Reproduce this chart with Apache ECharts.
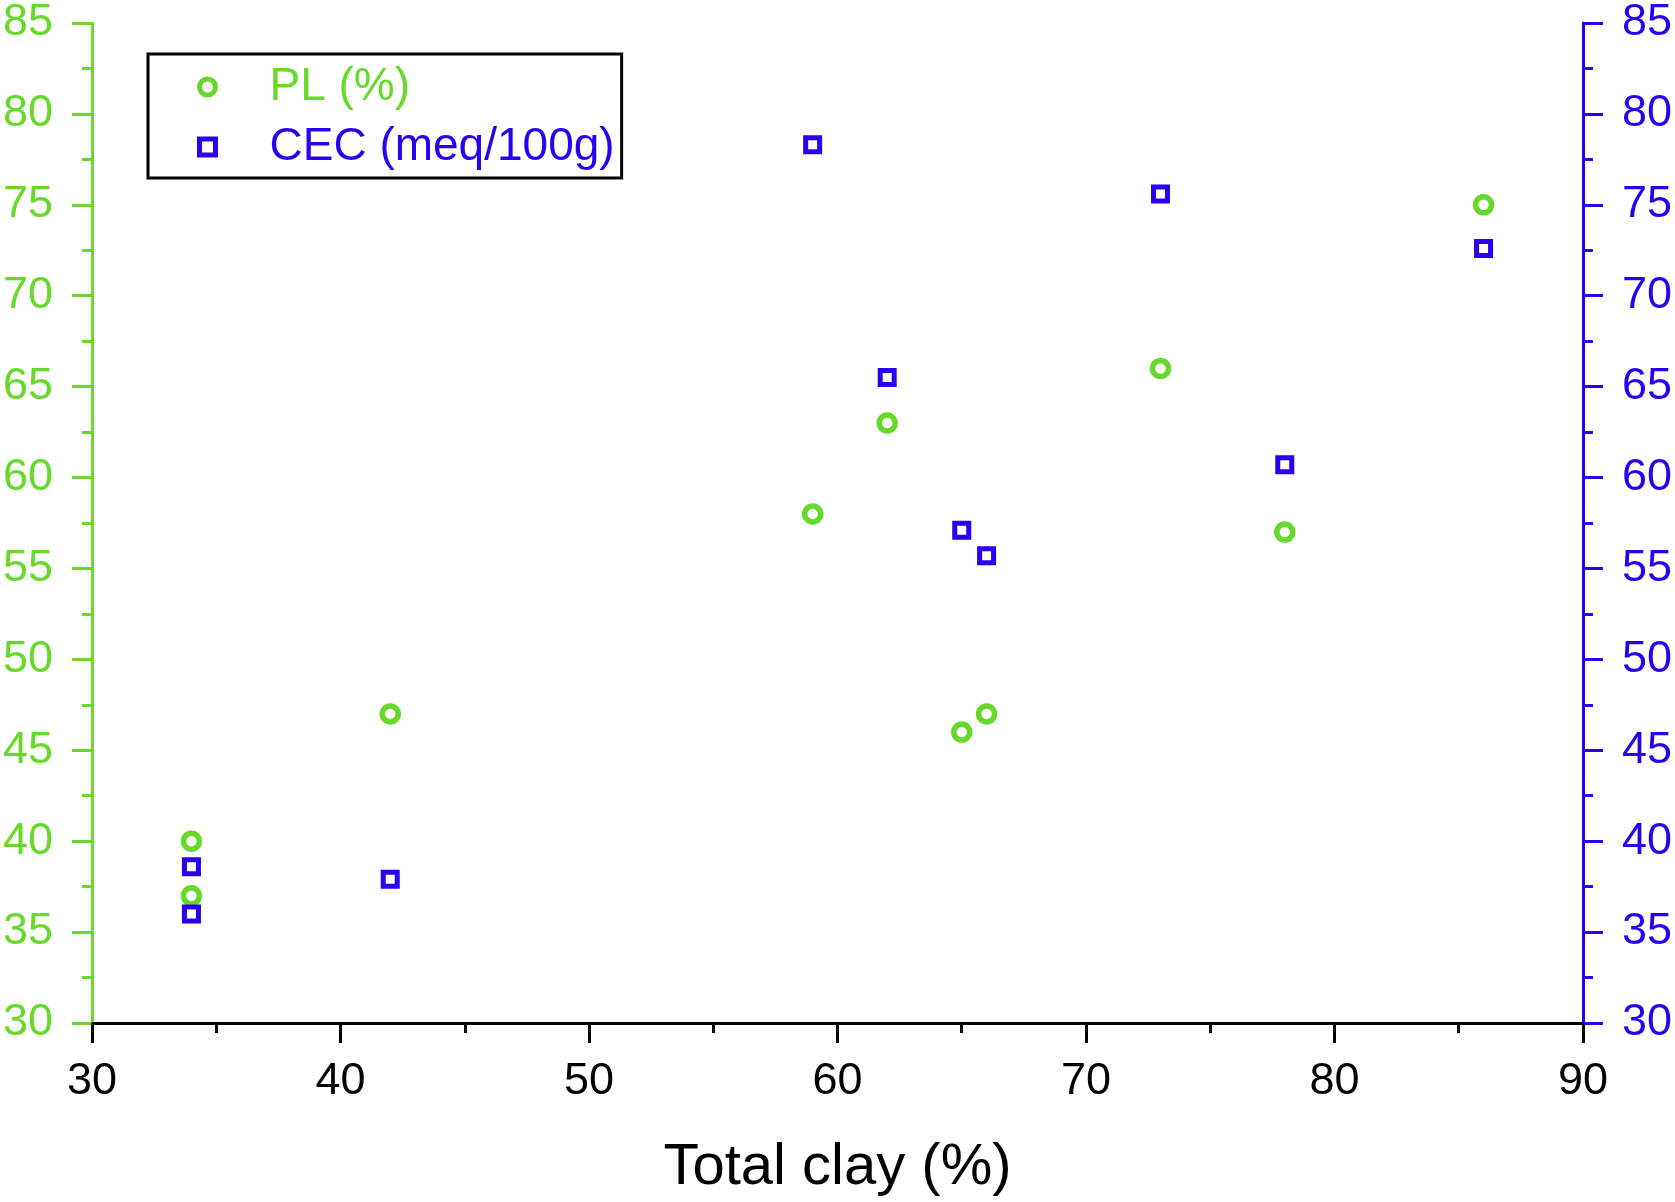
<!DOCTYPE html>
<html>
<head>
<meta charset="utf-8">
<script src="https://cdn.jsdelivr.net/npm/echarts@6/dist/echarts.min.js"></script>
<style>
html,body{margin:0;padding:0;background:#fff;}
#chart{width:1675px;height:1202px;}
</style>
</head>
<body>
<div id="chart"></div>
<script>
const clay = [34, 34, 42, 59, 62, 65, 66, 73, 78, 86];
const pl = [40, 37, 47, 58, 63, 46, 47, 66, 57, 75];
const cec = [38.6, 36.0, 37.9, 78.3, 65.5, 57.1, 55.7, 75.6, 60.7, 72.6];
const xTicks = [30, 40, 50, 60, 70, 80, 90];
const yTicks = [30, 35, 40, 45, 50, 55, 60, 65, 70, 75, 80, 85];
const plName = 'PL (%)';
const cecName = 'CEC (meq/100g)';
const xName = 'Total clay (%)';

const GREEN = '#66d92a';
const BLUE = '#2b00f2';
const FONT = 'Liberation Sans, Arial, sans-serif';

const plData = clay.map((x, i) => [x, pl[i]]);
const cecData = clay.map((x, i) => [x, cec[i]]);

function yAxis(pos, color) {
  return {
    type: 'value', position: pos,
    min: yTicks[0], max: yTicks[yTicks.length - 1], interval: 5,
    axisLine: { show: true, lineStyle: { color: color, width: 3 } },
    axisTick: { show: true, length: 20, lineStyle: { color: color, width: 3 } },
    minorTick: { show: true, splitNumber: 2, length: 10, lineStyle: { color: color, width: 3 } },
    splitLine: { show: false },
    minorSplitLine: { show: false },
    axisLabel: { color: color, fontSize: 45, fontFamily: FONT, margin: 39 }
  };
}

const chart = echarts.init(document.getElementById('chart'), null, { renderer: 'canvas' });
chart.setOption({
  animation: false,
  backgroundColor: '#fff',
  grid: { left: 92, right: 91, top: 23, bottom: 174, containLabel: false },
  xAxis: {
    type: 'value',
    min: xTicks[0], max: xTicks[xTicks.length - 1], interval: 10,
    name: xName, nameLocation: 'middle', nameGap: 116,
    nameTextStyle: { color: '#000', fontSize: 58, fontFamily: FONT },
    axisLine: { show: true, onZero: false, lineStyle: { color: '#000', width: 3 } },
    axisTick: { show: true, length: 20, lineStyle: { color: '#000', width: 3 } },
    minorTick: { show: true, splitNumber: 2, length: 10, lineStyle: { color: '#000', width: 3 } },
    splitLine: { show: false },
    axisLabel: { color: '#000', fontSize: 45, fontFamily: FONT, margin: 36 }
  },
  yAxis: [yAxis('left', GREEN), yAxis('right', BLUE)],
  legend: {
    orient: 'vertical', left: 148, top: 54,
    borderColor: '#000', borderWidth: 3, borderRadius: 0,
    padding: [8, 7, 6, 49],
    itemGap: 10, itemWidth: 16, itemHeight: 16,
    textStyle: { fontSize: 46, fontFamily: FONT, lineHeight: 50, padding: [0, 0, 0, 49] },
    data: [
      { name: plName, icon: 'circle', textStyle: { color: GREEN },
        itemStyle: { color: '#fff', borderColor: GREEN, borderWidth: 5 } },
      { name: cecName, icon: 'rect', textStyle: { color: BLUE },
        itemStyle: { color: '#fff', borderColor: BLUE, borderWidth: 5 } }
    ]
  },
  series: [
    {
      name: plName, type: 'scatter', yAxisIndex: 0, data: plData,
      symbol: 'circle', symbolSize: 16,
      itemStyle: { color: '#fff', borderColor: GREEN, borderWidth: 5.5, opacity: 1 }
    },
    {
      name: cecName, type: 'scatter', yAxisIndex: 1, data: cecData,
      symbol: 'rect', symbolSize: 14,
      itemStyle: { color: '#fff', borderColor: BLUE, borderWidth: 5, opacity: 1 }
    }
  ]
});
</script>
</body>
</html>
